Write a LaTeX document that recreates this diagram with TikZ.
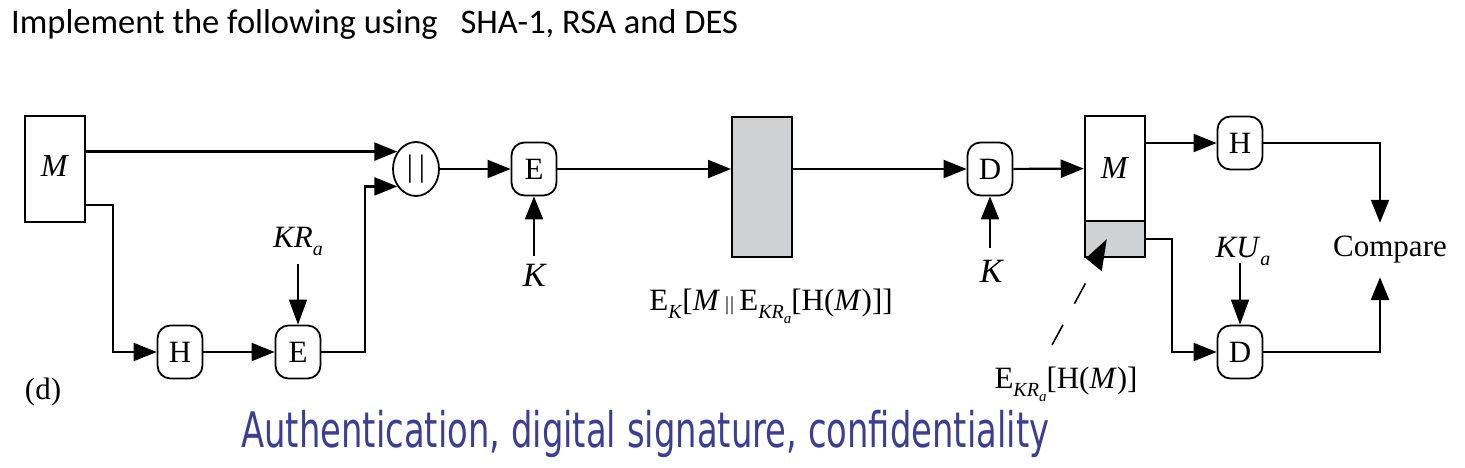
\documentclass[tikz,border=0pt]{standalone}
\usepackage{fontspec}
\setmainfont{Liberation Serif}
\newfontfamily\titlefont{Carlito}
\newfontfamily\bluefont{DejaVu Sans}
\usetikzlibrary{arrows.meta,shapes.geometric}
\definecolor{boxgrey}{RGB}{208,209,211}
\definecolor{capblue}{RGB}{59,62,150}
\newcommand\subA[1]{\raisebox{-0.28em}{\fontsize{20}{20}\selectfont #1}}
\newcommand\subB[1]{\raisebox{-0.22em}{\fontsize{15}{15}\selectfont #1}}
\begin{document}
\begin{tikzpicture}[x=1pt,y=-1pt,
  lbl/.style={font=\fontsize{31}{36}\selectfont, inner sep=0pt},
  opnode/.style={draw, line width=1.8pt, rounded corners=13pt, minimum width=45pt, minimum height=53pt, inner sep=0pt, font=\fontsize{31}{36}\selectfont},
  catnode/.style={draw, ellipse, line width=1.8pt, minimum width=46pt, minimum height=54pt, inner sep=0pt, font=\fontsize{31}{36}\selectfont},
  msgbox/.style={draw, line width=2.5pt, inner sep=0pt, font=\fontsize{32}{36}\selectfont},
  arr/.style={-{Triangle[length=23pt,width=18pt]}, line width=2.2pt},
  thinarr/.style={-{Triangle[length=25pt,width=18pt]}, line width=1.6pt}]
\useasboundingbox (0,0) rectangle (1465,467);

% title and caption
\node[anchor=base west, inner sep=0pt, font=\titlefont\fontsize{34.5}{40}\selectfont] (title) at (11,33) {Implement the following using\hspace{23pt}SHA-1, RSA and DES};
\node[anchor=base west, inner sep=0pt, text=capblue] (caption) at (241,447) {\resizebox{808pt}{\height}{\bluefont\fontsize{49}{56}\selectfont Authentication, digital signature, confidentiality}};
\node[lbl, anchor=base] (dlab) at (43,399) {(d)};

% sender side
\node[msgbox, minimum width=60pt, minimum height=106pt] (M) at (55,169) {\raisebox{6pt}{\textit{M}}};
\node[opnode] (H1) at (180,352) {H};
\node[opnode] (E1) at (298,352) {E};
\node[lbl, anchor=base] (KRa) at (298,247) {\textit{KR}\subA{\textit{a}}};
\node[catnode] (cat) at (416,169) {\textbar\kern6pt\textbar};
\node[opnode] (E2) at (534,169) {E};
\node[lbl, font=\fontsize{34}{36}\selectfont] (K1) at (535,275) {\textit{K}};

% channel
\node[msgbox, line width=2pt, fill=boxgrey, minimum width=60pt, minimum height=140pt] (C) at (762,187) {};
\node[lbl, anchor=base] (Elab1) at (771,310) {E\subA{\textit{K}}[\textit{M}\,{\fontsize{20}{20}\selectfont\textbar\kern1pt\textbar}\,E\subA{\textit{KR}\subB{\textit{a}}}[H(\textit{M})]]};

% receiver side
\node[opnode] (D1) at (990,169) {D};
\node[lbl, font=\fontsize{34}{36}\selectfont] (K2) at (992,271) {\textit{K}};
\node[msgbox, minimum width=60pt, minimum height=105pt] (M2) at (1115,168.5) {\raisebox{-6pt}{\textit{M}}};
\node[msgbox, fill=boxgrey, minimum width=60pt, minimum height=36pt] (G2) at (1115,239) {};
\node[opnode] (H2) at (1240,143) {H};
\node[opnode] (D2) at (1240,352) {D};
\node[lbl, anchor=base] (KUa) at (1243,257) {\textit{KU}\subA{\textit{a}}};
\node[lbl, minimum height=54pt] (Cmp) at (1390,250) {Compare};
\node[lbl, anchor=base] (Elab2) at (1066,388) {E\subA{\textit{KR}\subB{\textit{a}}}[H(\textit{M})]};

% connectors, sender
\draw[arr] (M.east |- cat.137) -- (cat.137);
\draw[arr] ([yshift=18pt]M.south east) -| ([xshift=-44pt]H1.west) -- (H1.west);
\draw[arr] (H1) -- (E1);
\draw[thinarr] ([yshift=-17pt]KRa.base) -- (E1.north);
\draw[arr] (E1.east) -| ([xshift=-32pt]cat.223) -- (cat.223);
\draw[arr] (cat) -- (E2);
\draw[arr] ([yshift=8pt]K1.north -| E2) -- (E2.south);
\draw[arr] (E2.east) -- (E2.east -| C.west);

% connectors, receiver
\draw[arr] (C.east |- D1) -- (D1);
\draw[arr] ([yshift=12pt]K2.north -| D1) -- (D1.south);
\draw[arr] (D1) -- (M2);
\draw[arr] (M2.east |- H2) -- (H2);
\draw[arr] (H2.east) -| ([xshift=-10pt]Cmp.north);
\draw[arr] (G2.east) -| ([xshift=-45pt]D2.west) -- (D2.west);
\draw[thinarr] ([yshift=-6pt]KUa.base -| D2) -- (D2.north);
\draw[arr, line width=2.8pt] (D2.east) -| ([xshift=-10pt]Cmp.south);

% dashed pointer to signature part
\coordinate (dstart) at (1052,345);
\coordinate (dend) at (1097,262);
\draw[line width=1.6pt, dash pattern=on 23pt off 24pt] (dstart) -- (dend);
\fill ([shift={(2,0)}]G2.south west) -- ([shift={(23,-19)}]G2.south west) -- ([shift={(18,13)}]G2.south west) -- cycle;
\end{tikzpicture}
\end{document}
